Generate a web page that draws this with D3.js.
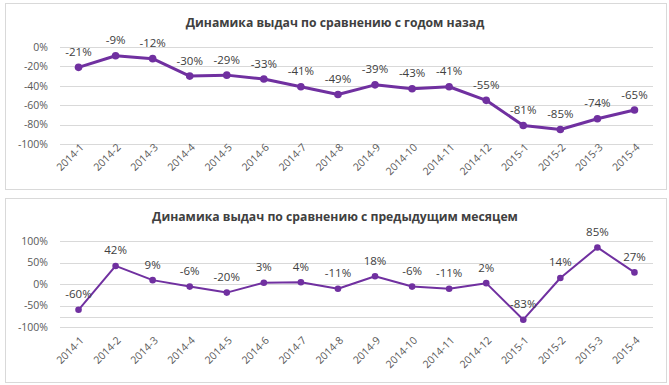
<!DOCTYPE html>
<html><head><meta charset="utf-8">
<script src="https://cdn.jsdelivr.net/npm/d3@7"></script>
<style>
html,body{margin:0;padding:0;background:#fff;}
svg{display:block;font-family:"Open Sans",sans-serif;}
</style></head>
<body>
<svg id="c" width="669" height="385"></svg>
<script>
const categories = ["2014-1","2014-2","2014-3","2014-4","2014-5","2014-6","2014-7","2014-8","2014-9","2014-10","2014-11","2014-12","2015-1","2015-2","2015-3","2015-4"];
const yoyValues = [-21,-9,-12,-30,-29,-33,-41,-49,-39,-43,-41,-55,-81,-85,-74,-65];
const momValues = [-60,42,9,-6,-20,3,4,-11,18,-6,-11,2,-83,14,85,27];
const yoyTicks = [0,-20,-40,-60,-80,-100];
const momTicks = [100,50,0,-50,-100];
const momAxisCross = -77;
const titles = ["Динамика выдач по сравнению с годом назад","Динамика выдач по сравнению с предыдущим месяцем"];

const svg = d3.select("#c");
const color = "#7030A0";
const fmt = v => v + "%";

function chart(cfg){
  const g = svg.append("g");
  g.append("rect").attr("x",cfg.box[0]+0.5).attr("y",cfg.box[1]+0.5)
    .attr("width",cfg.box[2]).attr("height",cfg.box[3])
    .attr("fill","#fff").attr("stroke","#d9d9d9").attr("stroke-width",1);
  g.append("text").attr("x",335).attr("y",cfg.titleY).attr("text-anchor","middle")
    .attr("font-size",12.2).attr("font-weight","bold").attr("fill","#404040").text(cfg.title);
  const x = d3.scaleBand().domain(categories).range([60,653]);
  const y = d3.scaleLinear().domain(cfg.domain).range(cfg.yRange);
  // gridlines
  const gl = cfg.ticks.concat(cfg.extra!==undefined?[cfg.extra]:[]);
  g.selectAll(".grid").data(gl).join("line")
    .attr("x1",60).attr("x2",653)
    .attr("y1",d=>Math.round(y(d))+0.5).attr("y2",d=>Math.round(y(d))+0.5)
    .attr("stroke","#d9d9d9").attr("stroke-width",1);
  // y axis labels
  const ya = g.append("g").attr("transform","translate(52,0)")
    .call(d3.axisLeft(y).tickValues(cfg.ticks).tickFormat(fmt).tickSize(0).tickPadding(4));
  ya.select(".domain").remove();
  ya.selectAll("text").attr("font-size",10.5).attr("fill","#595959").attr("font-family","Open Sans");
  // x axis labels
  const xa = g.append("g").attr("transform",`translate(0,${cfg.yRange[0]})`)
    .call(d3.axisBottom(x).tickSize(0).tickPadding(0));
  xa.select(".domain").remove();
  xa.selectAll("text").attr("font-size",10.5).attr("fill","#595959").attr("font-family","Open Sans")
    .attr("text-anchor","end").attr("dy",null).attr("y",0)
    .attr("transform",`translate(6,${cfg.labelDy}) rotate(-45)`);
  // line
  const cx = d => x(d)+x.bandwidth()/2;
  const vals = cfg.values;
  g.append("path").datum(vals)
    .attr("d",d3.line().x((d,i)=>cx(categories[i])).y(d=>y(d)))
    .attr("fill","none").attr("stroke",color).attr("stroke-width",cfg.lw).attr("stroke-linejoin","round");
  g.selectAll(".pt").data(vals).join("circle")
    .attr("cx",(d,i)=>cx(categories[i])).attr("cy",d=>y(d)).attr("r",cfg.r).attr("fill",color);
  g.selectAll(".lbl").data(vals).join("text")
    .attr("x",(d,i)=>cx(categories[i])).attr("y",d=>y(d)-11.5)
    .attr("text-anchor","middle").attr("font-size",11.5).attr("fill","#404040").text(fmt);
}

chart({box:[5,3,661,186],title:titles[0],titleY:27,domain:[-100,0],yRange:[144,47],ticks:yoyTicks,values:yoyValues,lw:3,r:3.8,labelDy:4});
chart({box:[5,198,661,184],title:titles[1],titleY:221,domain:[-100,100],yRange:[327,241],ticks:momTicks,extra:momAxisCross,values:momValues,lw:2,r:3.3,labelDy:14});
</script>
</body></html>
